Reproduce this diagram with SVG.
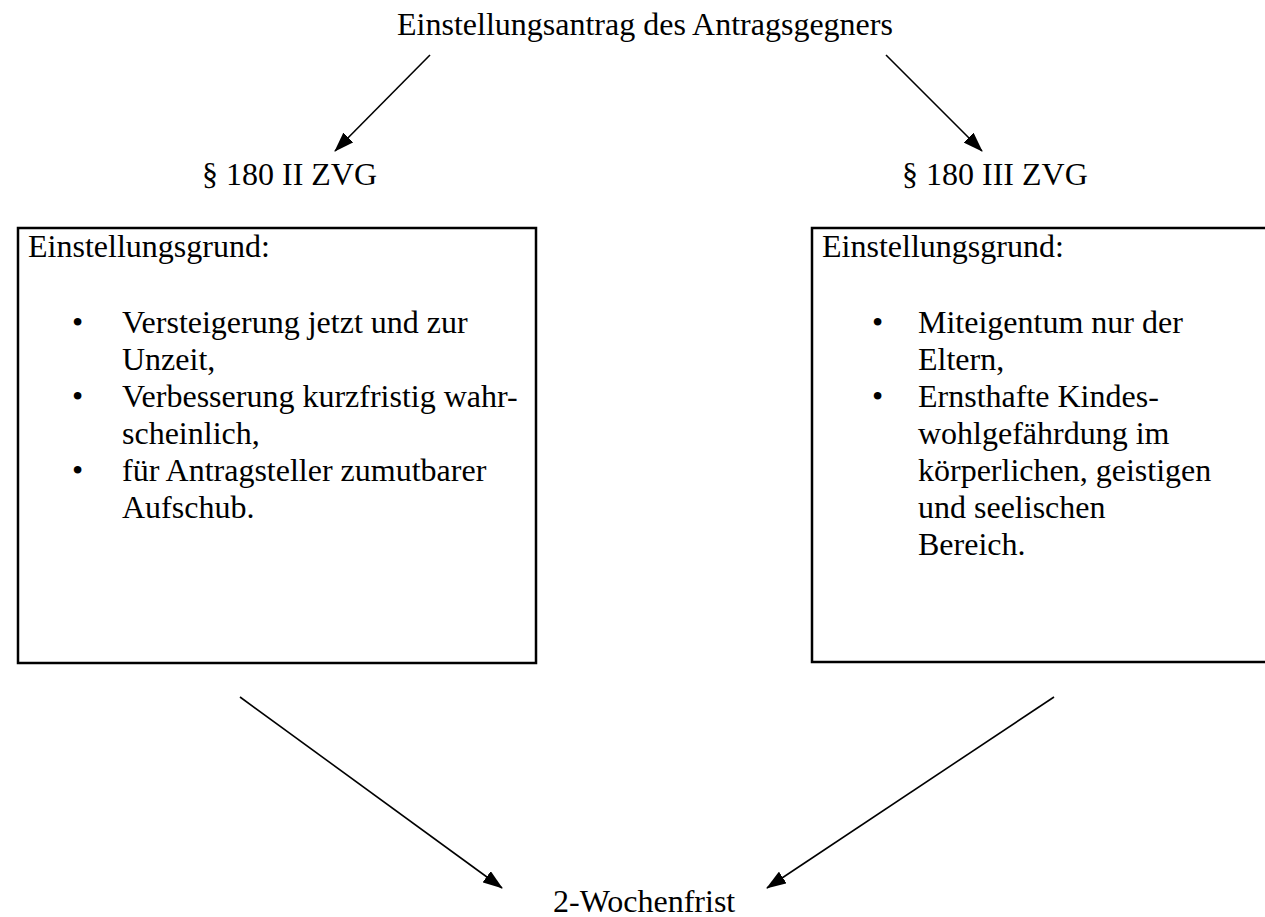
<svg xmlns="http://www.w3.org/2000/svg" width="1265" height="917" viewBox="0 0 1265 917">
<style>
text{font-family:"Liberation Serif","Times New Roman",serif;font-size:32px;fill:#000}
.box{fill:#fff;stroke:#000;stroke-width:2.5}
.conn line{stroke:#000;stroke-width:1.6}
</style>
<defs>
<marker id="ah" markerWidth="10" markerHeight="8" refX="9" refY="4" orient="auto" markerUnits="userSpaceOnUse" viewBox="0 0 10 8">
<path d="M0,0 L10,4 L0,8 z" fill="#000"/>
</marker>
<marker id="ah2" viewBox="0 0 20 14" refX="19" refY="7" markerWidth="20" markerHeight="14" orient="auto" markerUnits="userSpaceOnUse">
<path d="M0,0 L20,7 L0,14 z" fill="#000"/>
</marker>
</defs>
<rect width="1265" height="917" fill="#fff"/>
<g id="title"><text x="397" y="35">Einstellungsantrag des Antragsgegners</text></g>
<g id="p180-2"><text x="202" y="185">§ 180 II ZVG</text></g>
<g id="p180-3"><text x="902" y="185">§ 180 III ZVG</text></g>
<g id="box-left">
<rect class="box" x="18" y="228" width="518" height="435"/>
<text x="28" y="257">Einstellungsgrund:</text>
<text x="72" y="333">•</text><text x="122" y="333">Versteigerung jetzt und zur</text>
<text x="122" y="370">Unzeit,</text>
<text x="72" y="407">•</text><text x="122" y="407">Verbesserung kurzfristig wahr-</text>
<text x="122" y="444">scheinlich,</text>
<text x="72" y="481">•</text><text x="122" y="481">für Antragsteller zumutbarer</text>
<text x="122" y="518">Aufschub.</text>
</g>
<g id="box-right">
<rect class="box" x="812" y="228" width="470" height="434"/>
<text x="822" y="257">Einstellungsgrund:</text>
<text x="872" y="333">•</text><text x="918" y="333">Miteigentum nur der</text>
<text x="918" y="370">Eltern,</text>
<text x="872" y="407">•</text><text x="918" y="407">Ernsthafte Kindes-</text>
<text x="918" y="444">wohlgefährdung im</text>
<text x="918" y="481">körperlichen, geistigen</text>
<text x="918" y="518">und seelischen</text>
<text x="918" y="555">Bereich.</text>
</g>
<g id="frist"><text x="553" y="912">2-Wochenfrist</text></g>
<g id="connectors" class="conn">
<line x1="430" y1="55" x2="335" y2="151" marker-end="url(#ah2)"/>
<line x1="886" y1="55" x2="982" y2="151" marker-end="url(#ah2)"/>
<line x1="240" y1="697" x2="502" y2="888" marker-end="url(#ah2)"/>
<line x1="1054" y1="697" x2="767" y2="888" marker-end="url(#ah2)"/>
</g>
</svg>
